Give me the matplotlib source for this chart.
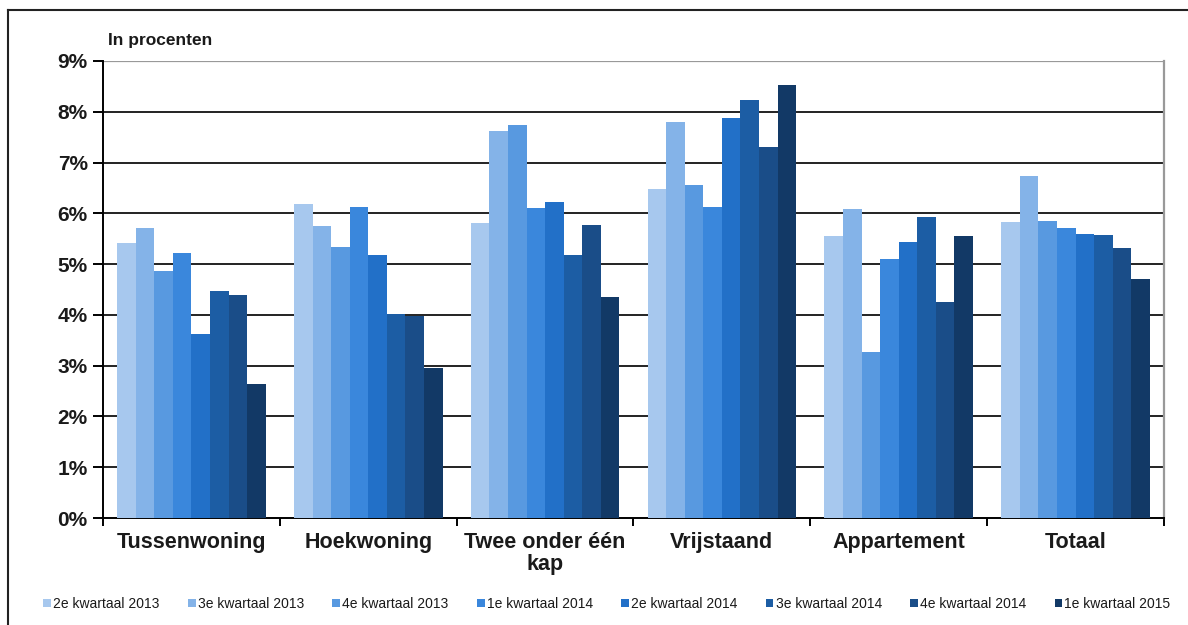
import numpy as np
import matplotlib.pyplot as plt
from matplotlib.lines import Line2D

plt.rcParams['font.family'] = ['Liberation Sans', 'DejaVu Sans']

# woningtypes en kwartalen
categories = ["Tussenwoning", "Hoekwoning", "Twee onder één\nkap",
              "Vrijstaand", "Appartement", "Totaal"]
quarters = ["2e kwartaal 2013", "3e kwartaal 2013", "4e kwartaal 2013",
            "1e kwartaal 2014", "2e kwartaal 2014", "3e kwartaal 2014",
            "4e kwartaal 2014", "1e kwartaal 2015"]

# percentages per kwartaal, volgorde = categories
q2_2013 = [5.41, 6.18, 5.81, 6.48, 5.55, 5.83]
q3_2013 = [5.71, 5.75, 7.63, 7.79, 6.08, 6.73]
q4_2013 = [4.87, 5.33, 7.73, 6.56, 3.27, 5.85]
q1_2014 = [5.22, 6.12, 6.10, 6.12, 5.10, 5.71]
q2_2014 = [3.63, 5.18, 6.22, 7.87, 5.43, 5.59]
q3_2014 = [4.47, 4.02, 5.18, 8.23, 5.93, 5.57]
q4_2014 = [4.39, 3.97, 5.77, 7.30, 4.25, 5.31]
q1_2015 = [2.64, 2.95, 4.35, 8.52, 5.55, 4.71]
series = [q2_2013, q3_2013, q4_2013, q1_2014, q2_2014, q3_2014, q4_2014, q1_2015]

colors = ["#A7C8EE", "#84B3E8", "#5899E0", "#3A87DC",
          "#2270C8", "#1C5DA4", "#1A4D88", "#123966"]

fig = plt.figure(figsize=(11.88, 6.25), dpi=100)
ax = fig.add_axes([103 / 1188, 107 / 625, 1061 / 1188, 457 / 625])

x = np.arange(len(categories))
width = 0.105
for i, vals in enumerate(series):
    offset = (i - 3.5) * width
    ax.bar(x + offset, vals, width, color=colors[i], label=quarters[i], zorder=3)

ax.set_xlim(-0.5, len(categories) - 0.5)
ax.set_ylim(0, 9)
ax.set_yticks(range(0, 10))
ax.set_yticklabels([f"{v}%" for v in range(0, 10)],
                   fontsize=15, fontweight="bold", color="#1a1a1a")

# gridlijnen
for v in range(1, 9):
    ax.axhline(v, color="#222222", lw=1.4, zorder=1)
ax.axhline(9, color="#999999", lw=1.6, zorder=1)

ax.spines["top"].set_visible(False)
ax.spines["right"].set_color("#999999")
ax.spines["right"].set_linewidth(1.6)
ax.spines["left"].set_linewidth(1.4)
ax.spines["bottom"].set_linewidth(1.4)

ax.set_xticks(np.arange(-0.5, len(categories), 1.0))
ax.set_xticklabels([])
ax.set_xticks(x, minor=True)
ax.set_xticklabels(categories, minor=True, fontsize=15.5, fontweight="bold",
                   color="#1a1a1a", linespacing=1.1)
ax.tick_params(axis="x", which="major", length=6, width=1.4, direction="out")
ax.tick_params(axis="x", which="minor", length=0, pad=10)
ax.tick_params(axis="y", length=7, width=1.4, direction="out", pad=4)
for lbl in ax.get_xticklabels(minor=True):
    lbl.set_verticalalignment("top")

fig.text(108 / 1188, 1 - 40 / 625, "In procenten", fontsize=12.5,
         fontweight="bold", color="#1a1a1a", va="center")

# legenda onderaan
handles, labels = ax.get_legend_handles_labels()
leg = fig.legend(handles, labels, loc="center", ncol=8,
                 bbox_to_anchor=(607 / 1188, 1 - 604 / 625), frameon=False,
                 fontsize=10, handlelength=0.55, handleheight=0.55,
                 handletextpad=0.15, columnspacing=2.05)
for t in leg.get_texts():
    t.set_color("#1a1a1a")

# rand om de figuur
fig.add_artist(Line2D([8 / 1188, 8 / 1188], [0, 1 - 10 / 625],
                      transform=fig.transFigure, color="#222222", lw=1.5))
fig.add_artist(Line2D([8 / 1188, 1], [1 - 10 / 625, 1 - 10 / 625],
                      transform=fig.transFigure, color="#222222", lw=1.5))

fig.savefig("out.png", dpi=100)
